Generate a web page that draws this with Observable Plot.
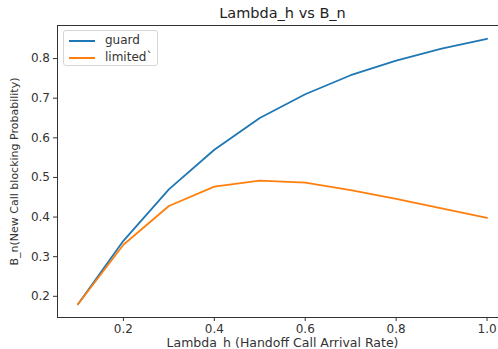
<!DOCTYPE html>
<html><head><meta charset="utf-8">
<script src="https://cdn.jsdelivr.net/npm/d3@7"></script>
<script src="https://cdn.jsdelivr.net/npm/@observablehq/plot@0.6"></script>
<style>
html,body{margin:0;padding:0;overflow:hidden;background:#fff;width:498px;height:349px}
#wrap{position:relative;width:507px;height:349px}
#wrap svg{display:block}
.legend{position:absolute;left:63px;top:30px;width:95px;height:36px;border:1px solid #d6d6d6;border-radius:3px;background:rgba(255,255,255,0.85);font:12px "DejaVu Sans",sans-serif;color:#333;box-sizing:border-box}
.row{position:absolute;left:0;height:16px;width:100%}
.sw{position:absolute;left:5px;top:8px;width:26px;height:0;border-top:2px solid}
.lb{position:absolute;left:41px;top:0;line-height:16px;white-space:pre}
</style></head>
<body><div id="wrap"></div>
<script>
const lambdaH = [0.1, 0.2, 0.3, 0.4, 0.5, 0.6, 0.7, 0.8, 0.9, 1.0];
const guard   = [0.18, 0.34, 0.47, 0.57, 0.65, 0.71, 0.758, 0.795, 0.825, 0.85];
const limited = [0.18, 0.33, 0.428, 0.477, 0.492, 0.487, 0.468, 0.446, 0.422, 0.398];
const seriesNames = ["guard", "limited`"];
const xTicks = [0.2, 0.4, 0.6, 0.8, 1.0];
const yTicks = [0.2, 0.3, 0.4, 0.5, 0.6, 0.7, 0.8];
const titleText = "Lambda_h vs B_n";
const xLabel = "Lambda_h (Handoff Call Arrival Rate)";
const yLabel = "B_n(New Call blocking Probability)";
const colors = ["#1f77b4", "#ff7f0e"];

const seriesValues = [guard, limited];
const data = seriesNames.flatMap((s, k) => lambdaH.map((x, i) => ({x, y: seriesValues[k][i], series: s})));

const font = "DejaVu Sans, sans-serif";
const chart = Plot.plot({
  width: 507, height: 349,
  marginTop: 25, marginBottom: 32, marginLeft: 57, marginRight: 0,
  style: {fontFamily: font, fontSize: "12px", color: "#333", background: "#fff"},
  x: {domain: [0.055, 1.045]},
  y: {domain: [0.1465, 0.8835]},
  color: {domain: seriesNames, range: colors},
  marks: [
    Plot.line(data, {x: "x", y: "y", stroke: "series", strokeWidth: 1.8, curve: "linear"}),
    Plot.frame({stroke: "#333", strokeWidth: 1}),
    Plot.axisX({ticks: xTicks, tickFormat: d3.format(".1f"), tickSize: 4, tickPadding: 3, label: null, fontSize: 12, stroke: "#333"}),
    Plot.axisY({ticks: yTicks, tickFormat: d3.format(".1f"), tickSize: 4, tickPadding: 3.5, label: null, fontSize: 12, stroke: "#333"}),
    Plot.text([titleText], {frameAnchor: "top", lineAnchor: "middle", textAnchor: "middle", dy: -12, fontSize: 14.5, fill: "#222"}),
    Plot.text([xLabel], {frameAnchor: "bottom", lineAnchor: "middle", textAnchor: "middle", dy: 25, fontSize: 12.5, fill: "#333"}),
    Plot.text([yLabel], {frameAnchor: "left", lineAnchor: "middle", textAnchor: "middle", dx: -43.5, rotate: -90, fontSize: 11, fill: "#333"})
  ]
});
const wrap = document.getElementById("wrap");
wrap.appendChild(chart);

const leg = document.createElement("div");
leg.className = "legend";
seriesNames.forEach((s, i) => {
  const row = document.createElement("div");
  row.className = "row";
  row.style.top = (1 + i * 17) + "px";
  const sw = document.createElement("div");
  sw.className = "sw"; sw.style.borderColor = colors[i];
  const lb = document.createElement("div");
  lb.className = "lb"; lb.textContent = s;
  row.appendChild(sw); row.appendChild(lb);
  leg.appendChild(row);
});
wrap.appendChild(leg);
</script></body></html>
